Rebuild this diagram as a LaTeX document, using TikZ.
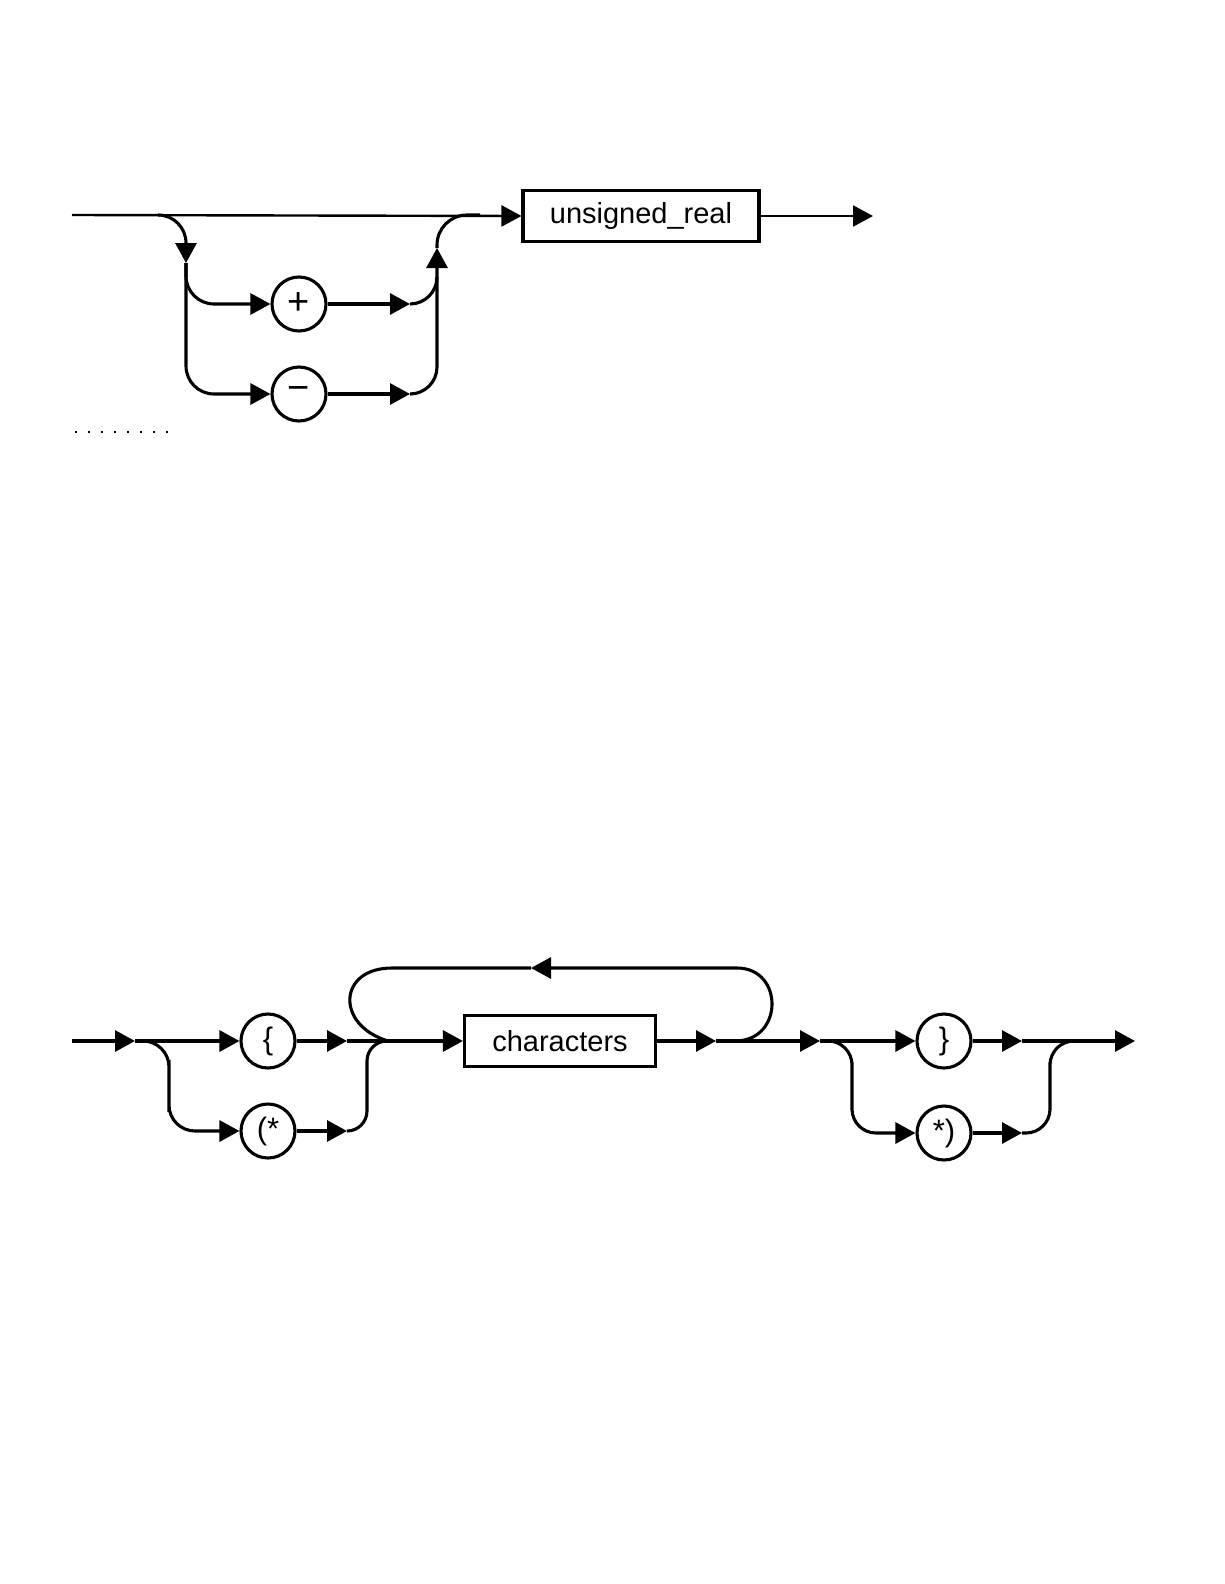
\documentclass[tikz,border=0pt]{standalone}
\usepackage{fontspec}
\setmainfont{Liberation Sans}
\usetikzlibrary{arrows.meta}
\tikzset{
  rail/.style={line width=3.1pt, -{Triangle[length=20pt,width=21pt]}},
  wire/.style={line width=3.1pt},
  term/.style={draw, line width=3.1pt, rectangle, minimum height=51pt, inner sep=0pt, font=\fontsize{29}{34}\selectfont},
  sym/.style={draw, line width=3.1pt, circle, minimum size=54pt, inner sep=0pt, font=\fontsize{31}{36}\selectfont}
}
\begin{document}
\begin{tikzpicture}[x=1pt,y=-1pt]
\useasboundingbox (0,0) rectangle (1224,1584);
% signed real
\node[term, minimum width=236pt] (ureal) at (641,216) {unsigned\_real};
\node[sym, font=\fontsize{38}{40}\selectfont] (plus) at (299,304) {+};
\node[sym, font=\fontsize{38}{40}\selectfont] (minus) at (299,394) {−};
\coordinate (sstart) at (72,215);
\coordinate (send) at (873,216);
\draw[rail, line width=2.4pt] (sstart) -- (ureal.west);
\draw[rail, line width=2.4pt] (ureal.east) -- (send);
\draw[rail, rounded corners=28pt] (158,215) -| (186,263);
\draw[rail, rounded corners=28pt] (186,263) |- (plus.west);
\draw[rail, rounded corners=28pt] (186,263) |- (minus.west);
\draw[rail] (plus.east) -- (410,304);
\draw[rail] (minus.east) -- (410,394);
\draw[rail, rounded corners=27pt] (410,304) -| (437,248);
\draw[wire, rounded corners=27pt] (410,394) -| (437,277);
\draw[wire, rounded corners=30pt] (437,248) |- (480,215);
\draw[line width=1.5pt, dash pattern=on 2pt off 11pt] (75,432) -- (175,432);
% comment
\node[term, minimum width=191pt] (chars) at (560,1041) {characters};
\node[sym] (lbrace) at (268,1041) {\{};
\node[sym] (lparen) at (268,1131) {(*};
\node[sym] (rbrace) at (944,1041) {\}};
\node[sym] (rparen) at (944,1133) {*)};
\coordinate (cstart) at (72,1041);
\coordinate (cend) at (1135,1041);
\draw[rail] (cstart) -- (135,1041);
\draw[rail] (135,1041) -- (lbrace.west);
\draw[rail, rounded corners=26pt] (143,1041) -| (169,1086) |- (lparen.west);
\draw[rail] (lbrace.east) -- (347,1041);
\draw[rail] (lparen.east) -- (347,1131);
\draw[rail] (347,1041) -- (chars.west);
\draw[wire, rounded corners=20pt] (347,1131) -| (367,1086) |- (388,1041);
\draw[rail] (chars.east) -- (716,1041);
\draw[rail] (716,1041) -- (820,1041);
\draw[rail] (735,1041) .. controls (784,1041) and (784,968) .. (737,968) -- (531,968);
\draw[wire] (531,968) -- (392,968) .. controls (338,968) and (335,1025) .. (388,1041);
\draw[rail] (820,1041) -- (rbrace.west);
\draw[rail, rounded corners=24pt] (828,1041) -| (852,1086) |- (rparen.west);
\draw[rail] (rbrace.east) -- (1022,1041);
\draw[rail] (rparen.east) -- (1022,1133);
\draw[rail] (1022,1041) -- (cend);
\draw[wire, rounded corners=24pt] (1022,1133) -| (1050,1086) |- (1074,1041);
\end{tikzpicture}
\end{document}
